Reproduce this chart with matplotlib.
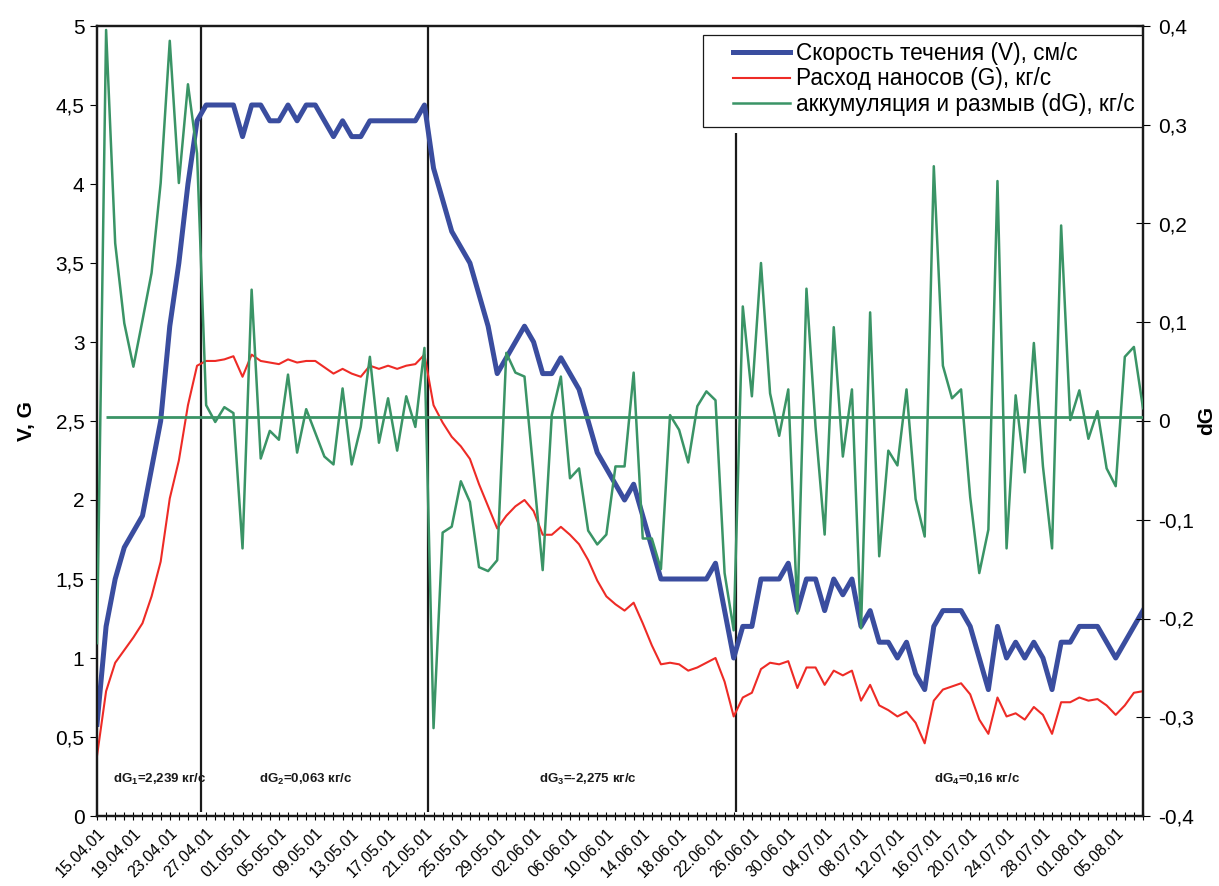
import matplotlib
matplotlib.use('Agg')
import matplotlib.pyplot as plt
import datetime as dt
from matplotlib.patches import Rectangle
from matplotlib.transforms import ScaledTranslation

plt.rcParams['font.family'] = ['Liberation Sans', 'DejaVu Sans']
plt.rcParams['mathtext.fontset'] = 'custom'
plt.rcParams['mathtext.rm'] = 'Liberation Sans'
plt.rcParams['mathtext.bf'] = 'Liberation Sans:bold'

# ---------------- data ----------------
start_date = dt.date(2001, 4, 15)
n_days = 116
dates = [start_date + dt.timedelta(days=i) for i in range(n_days)]
date_labels = [d.strftime('%d.%m.%y') for d in dates]

V = [0.58, 1.2, 1.5, 1.7, 1.8, 1.9, 2.2, 2.5, 3.1, 3.5,
     4.0, 4.4, 4.5, 4.5, 4.5, 4.5, 4.3, 4.5, 4.5, 4.4,
     4.4, 4.5, 4.4, 4.5, 4.5, 4.4, 4.3, 4.4, 4.3, 4.3,
     4.4, 4.4, 4.4, 4.4, 4.4, 4.4, 4.5, 4.1, 3.9, 3.7,
     3.6, 3.5, 3.3, 3.1, 2.8, 2.9, 3.0, 3.1, 3.0, 2.8,
     2.8, 2.9, 2.8, 2.7, 2.5, 2.3, 2.2, 2.1, 2.0, 2.1,
     1.9, 1.7, 1.5, 1.5, 1.5, 1.5, 1.5, 1.5, 1.6, 1.3,
     1.0, 1.2, 1.2, 1.5, 1.5, 1.5, 1.6, 1.3, 1.5, 1.5,
     1.3, 1.5, 1.4, 1.5, 1.2, 1.3, 1.1, 1.1, 1.0, 1.1,
     0.9, 0.8, 1.2, 1.3, 1.3, 1.3, 1.2, 1.0, 0.8, 1.2,
     1.0, 1.1, 1.0, 1.1, 1.0, 0.8, 1.1, 1.1, 1.2, 1.2,
     1.2, 1.1, 1.0, 1.1, 1.2, 1.3]

G = [0.38, 0.79, 0.97, 1.05, 1.13, 1.22, 1.39, 1.61, 2.01, 2.25,
     2.60, 2.85, 2.88, 2.88, 2.89, 2.91, 2.78, 2.92, 2.88, 2.87,
     2.86, 2.89, 2.87, 2.88, 2.88, 2.84, 2.80, 2.83, 2.80, 2.78,
     2.85, 2.83, 2.85, 2.83, 2.85, 2.86, 2.92, 2.60, 2.49, 2.40,
     2.34, 2.26, 2.10, 1.96, 1.82, 1.90, 1.96, 2.00, 1.93, 1.78,
     1.78, 1.83, 1.78, 1.72, 1.62, 1.49, 1.39, 1.34, 1.30, 1.35,
     1.22, 1.08, 0.96, 0.97, 0.96, 0.92, 0.94, 0.97, 1.00, 0.85,
     0.63, 0.75, 0.78, 0.93, 0.97, 0.96, 0.98, 0.81, 0.94, 0.94,
     0.83, 0.92, 0.89, 0.92, 0.73, 0.83, 0.70, 0.67, 0.63, 0.66,
     0.59, 0.46, 0.73, 0.80, 0.82, 0.84, 0.77, 0.61, 0.52, 0.75,
     0.63, 0.65, 0.61, 0.69, 0.64, 0.52, 0.72, 0.72, 0.75, 0.73,
     0.74, 0.70, 0.64, 0.70, 0.78, 0.79]

dG = [-0.225, 0.396, 0.180, 0.099, 0.055, 0.102, 0.150, 0.241, 0.385, 0.241,
      0.341, 0.271, 0.016, -0.001, 0.014, 0.008, -0.129, 0.133, -0.038, -0.010,
      -0.019, 0.047, -0.032, 0.012, -0.012, -0.036, -0.044, 0.033, -0.044, -0.006,
      0.065, -0.022, 0.023, -0.030, 0.025, -0.006, 0.074, -0.311, -0.113, -0.107,
      -0.061, -0.082, -0.148, -0.152, -0.141, 0.069, 0.049, 0.045, -0.053, -0.151,
      0.006, 0.045, -0.058, -0.048, -0.111, -0.125, -0.115, -0.046, -0.046, 0.049,
      -0.119, -0.119, -0.150, 0.006, -0.009, -0.042, 0.015, 0.030, 0.021, -0.154,
      -0.212, 0.116, 0.025, 0.160, 0.028, -0.015, 0.032, -0.195, 0.134, -0.006,
      -0.115, 0.095, -0.036, 0.032, -0.210, 0.110, -0.137, -0.030, -0.045, 0.032,
      -0.079, -0.117, 0.258, 0.056, 0.023, 0.032, -0.077, -0.154, -0.110, 0.243,
      -0.129, 0.026, -0.052, 0.079, -0.046, -0.129, 0.198, 0.001, 0.031, -0.018,
      0.010, -0.048, -0.066, 0.065, 0.075, 0.013]

dG_level = 0.0045          # horizontal reference line (secondary axis)
dG_level_span = (1, 115)   # day indices

# period borders (day index) and annotations
borders = [11.4, 36.4, 70.2]
border_tops = [5.0, 5.0, 4.32]
period_texts = [r'dG$_{\mathbf{1}}$=2,239 кг/с', r'dG$_{\mathbf{2}}$=0,063 кг/с',
                r'dG$_{\mathbf{3}}$=-2,275 кг/с', r'dG$_{\mathbf{4}}$=0,16 кг/с']
period_text_x = [6.9, 22.9, 54.0, 96.8]

left_ticks = [0, 0.5, 1, 1.5, 2, 2.5, 3, 3.5, 4, 4.5, 5]
right_ticks = [-0.4, -0.3, -0.2, -0.1, 0, 0.1, 0.2, 0.3, 0.4]

legend_labels = ['Скорость течения (V), см/с', 'Расход наносов (G), кг/с',
                 'аккумуляция и размыв (dG), кг/с']

# ---------------- figure ----------------
W, H = 1219, 886
fig = plt.figure(figsize=(W / 100, H / 100), dpi=100)
L, R, T, B = 97, 1143, 26, 816
ax = fig.add_axes([L / W, 1 - B / H, (R - L) / W, (B - T) / H])
ax2 = ax.twinx()

c_blue = '#3A4D9F'
c_red = '#EE2B26'
c_green = '#3A9466'

x = list(range(n_days))
lV, = ax.plot(x, V, color=c_blue, lw=3.6, zorder=3)
lG, = ax.plot(x, G, color=c_red, lw=1.5, zorder=3)
ldG, = ax2.plot(x, dG, color=c_green, lw=1.8, zorder=3)
ax2.hlines(dG_level, dG_level_span[0], dG_level_span[1], color=c_green, lw=2.0, zorder=3)

for bx, top in zip(borders, border_tops):
    ax.vlines(bx, 0.025, top, color='#1a1a1a', lw=1.6, zorder=2)

for tx, txt in zip(period_text_x, period_texts):
    ax.text(tx, 0.23, txt, ha='center', va='center', fontsize=9.5,
            fontweight='bold', color='#1a1a1a', zorder=4)

ax.set_xlim(0, n_days - 1)
ax.set_ylim(0, 5)
ax2.set_ylim(-0.4, 0.4)

def comma(v):
    return ('%g' % v).replace('.', ',')

ax.set_yticks(left_ticks)
ax.set_yticklabels([comma(v) for v in left_ticks], fontsize=15)
ax2.set_yticks(right_ticks)
ax2.set_yticklabels([comma(v) for v in right_ticks], fontsize=15)

ax.set_xticks(x)
ax.set_xticklabels([lab if i % 4 == 0 else '' for i, lab in enumerate(date_labels)],
                   rotation=45, ha='right', va='top', rotation_mode='anchor', fontsize=11.5)
shift = ScaledTranslation(-4 / 100, 0, fig.dpi_scale_trans)
for lab in ax.get_xticklabels():
    lab.set_transform(lab.get_transform() + shift)
ax.tick_params(axis='x', direction='inout', length=6, width=0.8, pad=4)
ax.tick_params(axis='y', direction='out', length=5, width=0.8, pad=4)
ax2.tick_params(axis='y', direction='inout', length=10, width=0.8, pad=6)

for a in (ax, ax2):
    for s in a.spines.values():
        s.set_linewidth(1.6)
        s.set_color('#1a1a1a')

ax.set_ylabel('V, G', fontsize=15, fontweight='bold', labelpad=14)
ax2.set_ylabel('dG', fontsize=15, fontweight='bold', labelpad=2)

# legend with a plain rectangular frame
frame = Rectangle(((703 - L) / (R - L), (B - 127) / (B - T)),
                  (1142 - 703) / (R - L), (127 - 35) / (B - T),
                  transform=ax2.transAxes, facecolor='white', edgecolor='#1a1a1a',
                  lw=0.9, zorder=5)
ax2.add_patch(frame)
leg = ax2.legend([lV, lG, ldG], legend_labels, loc='upper left',
                 bbox_to_anchor=((733 - L) / (R - L), (B - 42) / (B - T)),
                 frameon=False, fontsize=16.3, borderpad=0, borderaxespad=0,
                 handlelength=2.5, handletextpad=0.3, labelspacing=0.11)
leg.set_zorder(6)

fig.savefig('out.png', dpi=100)
